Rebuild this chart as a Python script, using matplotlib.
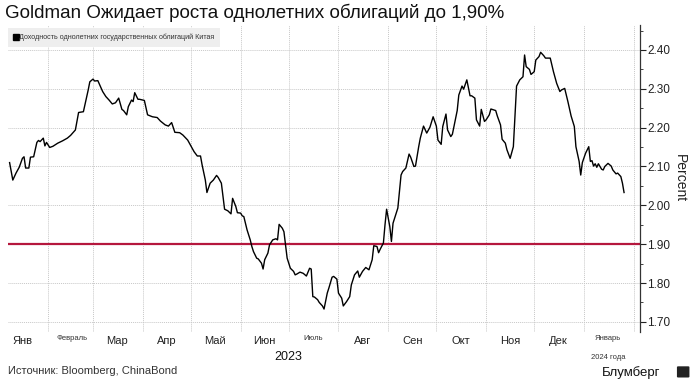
import matplotlib
matplotlib.use("Agg")
import matplotlib.pyplot as plt
import matplotlib.dates as mdates
import matplotlib.transforms as mtransforms
from matplotlib.lines import Line2D
from matplotlib.patches import FancyBboxPatch
import pandas as pd

plt.rcParams['font.family'] = ['Liberation Sans', 'DejaVu Sans']

# доходность 1-летних гос. облигаций Китая, дни с 01.01.2023
days = [7, 9, 11, 13, 15, 16, 17, 19, 20, 22, 24, 25, 26, 28, 29, 30, 32, 34, 37, 40,
        43, 45, 48, 50, 53, 56, 57, 59, 60, 62, 65, 67, 69, 71, 73, 75, 77, 78, 80, 81,
        83, 84, 85, 87, 88, 91, 93, 96, 99, 101, 104, 106, 108, 110, 113, 115, 118, 120, 122, 124,
        126, 127, 129, 130, 132, 134, 136, 137, 139, 140, 141, 143, 145, 146, 148, 149, 151, 152, 153, 155,
        157, 158, 159, 161, 162, 164, 165, 166, 168, 169, 171, 173, 174, 175, 177, 178, 179, 180, 182, 184,
        185, 186, 188, 190, 192, 194, 195, 196, 197, 199, 200, 202, 203, 205, 206, 208, 209, 211, 212, 214,
        215, 217, 219, 220, 222, 224, 225, 227, 229, 231, 233, 234, 236, 237, 238, 240, 241, 242, 244, 245,
        246, 248, 249, 251, 252, 254, 256, 257, 259, 260, 262, 263, 265, 267, 269, 271, 273, 274, 276, 277,
        279, 280, 282, 283, 285, 286, 287, 289, 290, 292, 294, 295, 297, 298, 300, 301, 303, 304, 306, 307,
        310, 311, 313, 314, 316, 317, 319, 321, 322, 323, 325, 327, 328, 329, 331, 332, 334, 335, 337, 338,
        340, 341, 344, 346, 348, 350, 351, 353, 355, 357, 359, 360, 362, 363, 364, 366, 368, 369, 370, 371,
        372, 373, 374, 376, 377, 378, 380, 382, 383, 385, 386, 388, 389, 390]
yields = [2.110, 2.065, 2.083, 2.098, 2.121, 2.125, 2.096, 2.096, 2.124, 2.125, 2.162, 2.167, 2.164, 2.173, 2.153, 2.162, 2.149, 2.152, 2.160, 2.166,
          2.173, 2.180, 2.194, 2.239, 2.241, 2.297, 2.318, 2.325, 2.320, 2.321, 2.293, 2.280, 2.271, 2.261, 2.264, 2.276, 2.247, 2.244, 2.233, 2.254,
          2.271, 2.267, 2.290, 2.273, 2.273, 2.270, 2.233, 2.228, 2.226, 2.217, 2.207, 2.204, 2.213, 2.188, 2.187, 2.181, 2.168, 2.153, 2.138, 2.127,
          2.127, 2.104, 2.065, 2.033, 2.057, 2.065, 2.077, 2.072, 2.057, 2.023, 1.990, 1.986, 1.978, 2.018, 1.997, 1.981, 1.980, 1.973, 1.971, 1.937,
          1.911, 1.894, 1.881, 1.864, 1.862, 1.851, 1.836, 1.860, 1.877, 1.898, 1.911, 1.914, 1.911, 1.951, 1.941, 1.932, 1.898, 1.864, 1.838, 1.830,
          1.821, 1.823, 1.828, 1.825, 1.818, 1.838, 1.836, 1.765, 1.764, 1.757, 1.750, 1.741, 1.733, 1.774, 1.787, 1.815, 1.817, 1.810, 1.774, 1.761,
          1.741, 1.752, 1.765, 1.795, 1.821, 1.831, 1.815, 1.830, 1.840, 1.834, 1.860, 1.896, 1.894, 1.878, 1.887, 1.903, 1.950, 1.990, 1.945, 1.907,
          1.954, 1.980, 1.993, 2.078, 2.087, 2.096, 2.132, 2.124, 2.100, 2.101, 2.151, 2.173, 2.204, 2.186, 2.201, 2.228, 2.204, 2.168, 2.157, 2.203,
          2.235, 2.194, 2.177, 2.183, 2.224, 2.244, 2.284, 2.307, 2.299, 2.323, 2.282, 2.282, 2.276, 2.220, 2.204, 2.247, 2.216, 2.220, 2.233, 2.248,
          2.244, 2.230, 2.207, 2.170, 2.160, 2.143, 2.121, 2.151, 2.228, 2.307, 2.323, 2.331, 2.387, 2.357, 2.350, 2.337, 2.344, 2.374, 2.383, 2.394,
          2.385, 2.379, 2.379, 2.344, 2.314, 2.293, 2.297, 2.301, 2.267, 2.230, 2.203, 2.151, 2.113, 2.078, 2.110, 2.134, 2.151, 2.113, 2.115, 2.101,
          2.107, 2.098, 2.107, 2.093, 2.091, 2.100, 2.108, 2.101, 2.091, 2.081, 2.083, 2.074, 2.057, 2.033]
target = 1.90

month_labels = ['Янв', 'Февраль', 'Мар', 'Апр', 'Май', 'Июн', 'Июль', 'Авг', 'Сен', 'Окт', 'Ноя', 'Дек', 'Январь']
month_small = [False, True, False, False, False, False, True, False, False, False, False, False, True]
yticks = [1.70, 1.80, 1.90, 2.00, 2.10, 2.20, 2.30, 2.40]

start = pd.Timestamp('2023-01-01')
dates = [start + pd.Timedelta(days=d) for d in days]

fig = plt.figure(figsize=(6.95, 3.86), dpi=100)
ax = fig.add_axes([0.0115, 0.140, 0.9095, 0.795])

grid_kw = dict(color='#c8c8c8', linewidth=0.7, linestyle=(0, (1, 1)))
ax.plot(dates, yields, color='black', linewidth=1.0, zorder=3)
ax.axhline(target, color='#b5173d', linewidth=1.6, zorder=2)

ax.set_xlim(start + pd.Timedelta(days=6), start + pd.Timedelta(days=400))
ax.set_ylim(1.674, 2.464)

ax.xaxis.set_major_locator(mdates.MonthLocator())
ax.xaxis.set_major_formatter(plt.NullFormatter())
ax.tick_params(axis='x', length=0)
ax.grid(True, axis='both', **grid_kw)

ax.yaxis.tick_right()
ax.set_yticks(yticks)
ax.set_yticklabels(['%.2f' % t for t in yticks])
ax.set_yticks([t + 0.05 for t in yticks], minor=True)
ax.tick_params(axis='y', which='major', length=4, width=0.8, direction='out', pad=1,
               labelsize=8.5, colors='#222222')
ax.tick_params(axis='y', which='minor', length=2, width=0.6, direction='out', colors='#222222')
ax.yaxis.set_label_position('right')
ax.set_ylabel('Percent', rotation=270, fontsize=10, labelpad=12, color='#222222')

for s in ['left', 'top', 'bottom']:
    ax.spines[s].set_visible(False)
ax.spines['right'].set_color('#333333')
ax.spines['right'].set_linewidth(0.9)

# подписи месяцев
trans = mtransforms.blended_transform_factory(ax.transData, ax.transAxes)
for i, (lab, small) in enumerate(zip(month_labels, month_small)):
    y0 = 2023 + (i // 12)
    mid = pd.Timestamp(year=y0, month=i % 12 + 1, day=16)
    if small:
        ax.text(mid, -0.01, lab, transform=trans, ha='center', va='top', fontsize=5.5, color='#333333')
    else:
        ax.text(mid, -0.013, lab, transform=trans, ha='center', va='top', fontsize=8, color='#222222')
ax.text(pd.Timestamp('2024-01-16'), -0.072, '2024 года', transform=trans, ha='center', va='top',
        fontsize=5.5, color='#333333')
ax.text(pd.Timestamp('2023-07-01'), -0.062, '2023', transform=trans, ha='center', va='top',
        fontsize=9, color='#111111')

# легенда
h = Line2D([], [], marker='s', color='black', linestyle='none', markersize=4.5)
leg = ax.legend([h], ['Доходность однолетних государственных облигаций Китая'], loc='upper left',
                bbox_to_anchor=(0.0, 0.99), frameon=True, fancybox=False, facecolor='#eeeeee',
                edgecolor='none', framealpha=1, fontsize=5.1, handlelength=0.6, handletextpad=0.1,
                borderpad=0.8, borderaxespad=0.0)
for t in leg.get_texts():
    t.set_color('#333333')

fig.text(0.007, 0.966, 'Goldman Ожидает роста однолетних облигаций до 1,90%', fontsize=13.5,
         ha='left', va='center', color='#111111')
fig.text(0.012, 0.040, 'Источник: Bloomberg, ChinaBond', fontsize=8, ha='left', va='center', color='#333333')
fig.text(0.950, 0.035, 'Блумберг', fontsize=9.5, ha='right', va='center', color='#111111')
fig.patches.append(FancyBboxPatch((0.976, 0.024), 0.014, 0.025, boxstyle='round,pad=0.002',
                                  transform=fig.transFigure, facecolor='#222222', edgecolor='none'))

fig.savefig('out.png', dpi=100)
